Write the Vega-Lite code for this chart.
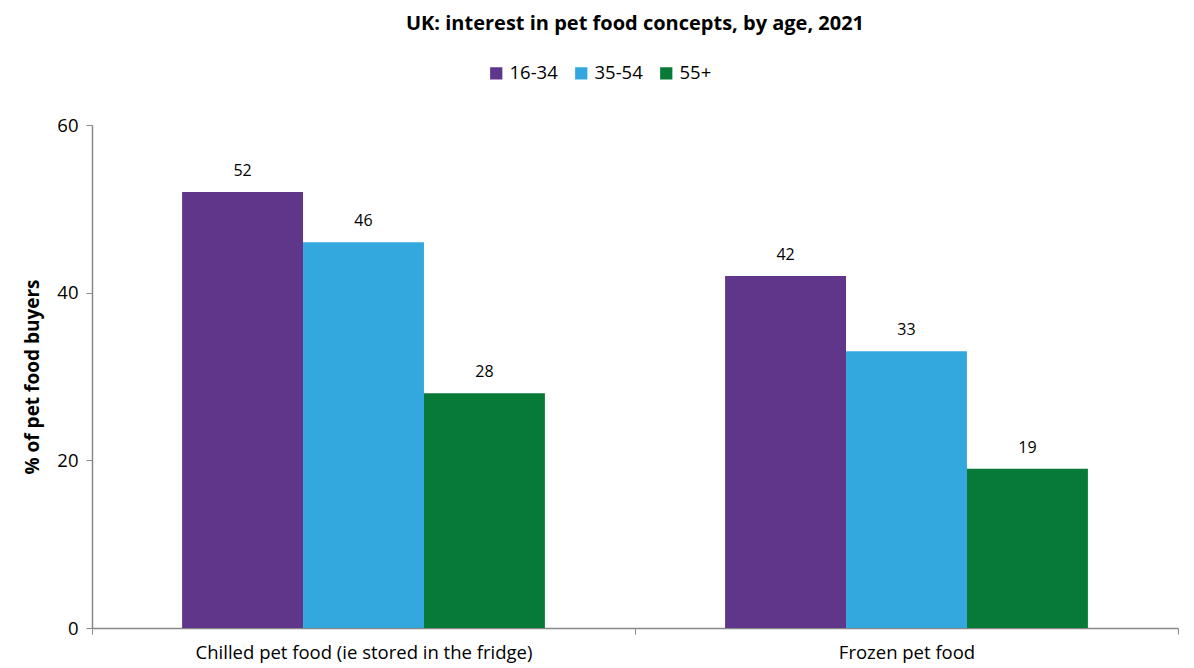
{
  "$schema": "https://vega.github.io/schema/vega-lite/v6.json",
  "width": 1086,
  "height": 503,
  "autosize": {"type": "none"},
  "padding": {"left": 92, "top": 125, "right": 16, "bottom": 40},
  "background": "white",
  "config": {
    "font": "Open Sans",
    "view": {"stroke": null}
  },
  "title": {
    "text": "UK: interest in pet food concepts, by age, 2021",
    "fontSize": 20,
    "fontWeight": "bold",
    "font": "Open Sans",
    "color": "#000000",
    "anchor": "middle",
    "offset": 30
  },
  "data": {
    "values": [
      {"concept": "Chilled pet food (ie stored in the fridge)", "age": "16-34", "value": 52},
      {"concept": "Chilled pet food (ie stored in the fridge)", "age": "35-54", "value": 46},
      {"concept": "Chilled pet food (ie stored in the fridge)", "age": "55+", "value": 28},
      {"concept": "Frozen pet food", "age": "16-34", "value": 42},
      {"concept": "Frozen pet food", "age": "35-54", "value": 33},
      {"concept": "Frozen pet food", "age": "55+", "value": 19}
    ]
  },
  "encoding": {
    "x": {
      "field": "concept",
      "type": "nominal",
      "sort": null,
      "scale": {"paddingInner": 0, "paddingOuter": 0},
      "axis": {
        "title": null,
        "labelAngle": 0,
        "labelFontSize": 18.5,
        "labelLimit": 0,
        "labelColor": "#000000",
        "labelPadding": 9,
        "domainColor": "#888888",
        "domainWidth": 1.5,
        "tickColor": "#888888",
        "tickBand": "extent",
        "tickSize": 6
      }
    },
    "xOffset": {"field": "age", "type": "nominal", "sort": ["16-34", "35-54", "55+"], "scale": {"paddingInner": 0, "paddingOuter": 0.745}},
    "y": {
      "field": "value",
      "type": "quantitative",
      "scale": {"domain": [0, 60], "nice": false},
      "axis": {
        "title": "% of pet food buyers",
        "titleFontSize": 19,
        "titleFontWeight": "bold",
        "titleColor": "#000000",
        "titlePadding": 14,
        "values": [0, 20, 40, 60],
        "grid": false,
        "labelFontSize": 18.5,
        "labelColor": "#000000",
        "labelPadding": 8,
        "domainColor": "#888888",
        "domainWidth": 1.5,
        "tickColor": "#888888",
        "tickSize": 6
      }
    }
  },
  "layer": [
    {
      "mark": {"type": "bar"},
      "encoding": {
        "color": {
          "field": "age",
          "type": "nominal",
          "sort": ["16-34", "35-54", "55+"],
          "scale": {"domain": ["16-34", "35-54", "55+"], "range": ["#5F3689", "#33A8DF", "#067A36"]},
          "legend": {
            "title": null,
            "orient": "none",
            "direction": "horizontal",
            "legendX": 395,
            "legendY": -61,
            "symbolType": "square",
            "symbolSize": 150,
            "labelFontSize": 18.5,
            "labelColor": "#000000",
            "columnPadding": 14,
            "symbolStrokeWidth": 0
          }
        }
      }
    },
    {
      "mark": {"type": "text", "baseline": "bottom", "dy": -13, "fontSize": 16, "color": "#000000"},
      "encoding": {
        "text": {"field": "value", "type": "quantitative"}
      }
    }
  ]
}
